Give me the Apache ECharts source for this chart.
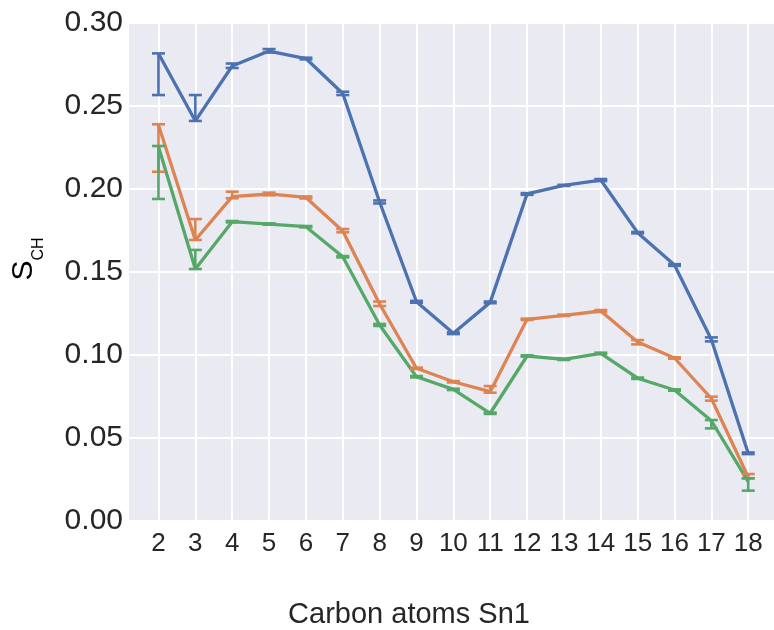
<!DOCTYPE html>
<html>
<head>
<meta charset="utf-8">
<script src="https://cdn.jsdelivr.net/npm/echarts@6/dist/echarts.min.js"></script>
<style>html,body{margin:0;padding:0;background:#fff}#c{width:774px;height:630px}</style>
</head>
<body>
<div id="c"></div>
<script>
// Carbon positions
const carbons = [2,3,4,5,6,7,8,9,10,11,12,13,14,15,16,17,18];
const yTicks = [0, 0.05, 0.10, 0.15, 0.20, 0.25, 0.30];

// Series 1 (blue)
const blueMean = [0.2816,0.2410,0.2741,0.2831,0.2786,0.2575,0.1922,0.1321,0.1131,0.1317,0.1970,0.2022,0.2054,0.1737,0.1542,0.1094,0.0408];
const blueLow  = [0.2566,0.2410,0.2729,0.2822,0.2781,0.2566,0.1913,0.1315,0.1126,0.1312,0.1965,0.2019,0.2048,0.1733,0.1537,0.1082,0.0403];
const blueHigh = [0.2817,0.2566,0.2756,0.2843,0.2791,0.2586,0.1931,0.1326,0.1136,0.1322,0.1975,0.2025,0.2060,0.1741,0.1547,0.1106,0.0413];

// Series 2 (orange)
const orangeMean = [0.2385,0.1693,0.1954,0.1970,0.1949,0.1747,0.1307,0.0920,0.0839,0.0779,0.1215,0.1239,0.1265,0.1078,0.0982,0.0738,0.0265];
const orangeLow  = [0.2104,0.1693,0.1944,0.1962,0.1943,0.1739,0.1295,0.0916,0.0835,0.0773,0.1211,0.1235,0.1259,0.1064,0.0978,0.0725,0.0257];
const orangeHigh = [0.2390,0.1819,0.1984,0.1978,0.1955,0.1759,0.1322,0.0924,0.0843,0.0813,0.1219,0.1243,0.1271,0.1090,0.0986,0.0749,0.0283];

// Series 3 (green)
const greenMean = [0.2255,0.1518,0.1803,0.1789,0.1773,0.1592,0.1181,0.0869,0.0793,0.0649,0.0994,0.0974,0.1010,0.0860,0.0789,0.0604,0.0237];
const greenLow  = [0.1940,0.1518,0.1799,0.1785,0.1769,0.1588,0.1175,0.0865,0.0789,0.0645,0.0990,0.0970,0.1006,0.0856,0.0785,0.0558,0.0183];
const greenHigh = [0.2259,0.1633,0.1807,0.1793,0.1777,0.1596,0.1187,0.0873,0.0797,0.0653,0.0998,0.0978,0.1014,0.0864,0.0793,0.0608,0.0257];

const xTitle = 'Carbon atoms Sn1';
const colors = ['#4C72B0', '#DD8452', '#55A868'];

const chart = echarts.init(document.getElementById('c'), null, {renderer: 'canvas'});

function lineSeries(mean, color) {
  return {
    type: 'line',
    data: carbons.map((c, i) => [c, mean[i]]),
    symbol: 'none',
    lineStyle: {color: color, width: 3.3},
    itemStyle: {color: color},
    z: 3,
    animation: false
  };
}
function errSeries(low, high, color) {
  return {
    type: 'custom',
    data: carbons.map((c, i) => [c, low[i], high[i]]),
    encode: {x: 0, y: [1, 2]},
    renderItem: function (params, api) {
      const x = api.value(0);
      const p1 = api.coord([x, api.value(1)]);
      const p2 = api.coord([x, api.value(2)]);
      const hw = 6.5;
      const st = {stroke: color, lineWidth: 2.6};
      return {
        type: 'group',
        children: [
          {type: 'line', shape: {x1: p1[0], y1: p1[1], x2: p2[0], y2: p2[1]}, style: st},
          {type: 'line', shape: {x1: p1[0]-hw, y1: p1[1], x2: p1[0]+hw, y2: p1[1]}, style: st},
          {type: 'line', shape: {x1: p2[0]-hw, y1: p2[1], x2: p2[0]+hw, y2: p2[1]}, style: st}
        ]
      };
    },
    z: 4,
    animation: false
  };
}

chart.setOption({
  animation: false,
  title: {
    text: xTitle,
    left: 404, top: 595,
    textAlign: 'center',
    textStyle: {fontFamily: 'Liberation Sans', fontSize: 29, fontWeight: 'normal', color: '#262626'}
  },
  graphic: [{
    type: 'text',
    x: 24, y: 259,
    rotation: Math.PI / 2,
    style: {
      text: '{s|S}{sub|CH}',
      align: 'center', verticalAlign: 'middle',
      rich: {
        s: {fontFamily: 'Liberation Sans', fontSize: 30, color: '#262626', verticalAlign: 'bottom'},
        sub: {fontFamily: 'Liberation Sans', fontSize: 16, color: '#262626', verticalAlign: 'bottom', padding: [0, 0, -8, 0]}
      }
    }
  }],
  grid: {left: 129, right: 0, top: 23, bottom: 109, show: true, backgroundColor: '#EAEAF2', borderWidth: 0},
  xAxis: {
    type: 'value', min: 1.2, max: 18.7,
    axisLine: {show: false},
    axisTick: {show: false, customValues: carbons},
    axisLabel: {customValues: carbons, fontFamily: 'Liberation Sans', fontSize: 26, color: '#262626', margin: 10},
    splitLine: {show: true, lineStyle: {color: '#ffffff', width: 2}}
  },
  yAxis: {
    type: 'value', min: 0, max: 0.3, interval: 0.05,
    axisLine: {show: false},
    axisTick: {show: false},
    axisLabel: {fontFamily: 'Liberation Sans', fontSize: 30, color: '#262626', margin: 6, formatter: v => v.toFixed(2)},
    splitLine: {show: true, lineStyle: {color: '#ffffff', width: 2}}
  },
  series: [
    lineSeries(blueMean, colors[0]), errSeries(blueLow, blueHigh, colors[0]),
    lineSeries(orangeMean, colors[1]), errSeries(orangeLow, orangeHigh, colors[1]),
    lineSeries(greenMean, colors[2]), errSeries(greenLow, greenHigh, colors[2])
  ]
});
</script>
</body>
</html>
